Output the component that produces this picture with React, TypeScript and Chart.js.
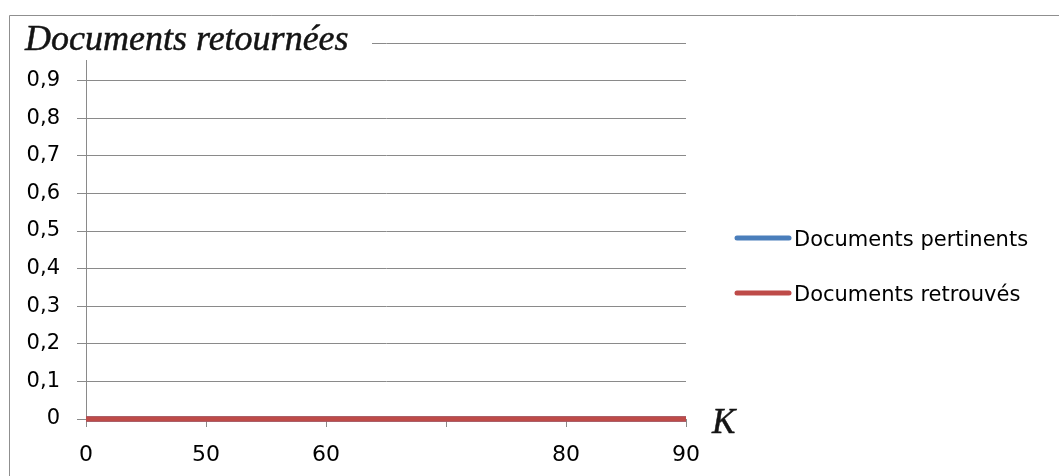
import React, { useEffect, useRef } from 'react';
import { Chart, registerables } from 'chart.js';

Chart.register(...registerables);

// Values of K and the two measured series
const categories = ['0', '50', '60', '70', '80', '90'];
const xTickLabels = ['0', '50', '60', '', '80', '90'];
const pertinents = [0, 0, 0, 0, 0, 0];
const retrouves = [0, 0, 0, 0, 0, 0];
const yTickLabels = ['0', '0,1', '0,2', '0,3', '0,4', '0,5', '0,6', '0,7', '0,8', '0,9', '1'];
const seriesNames = ['Documents pertinents', 'Documents retrouvés'];
const seriesColors = ['#4a7ebb', '#be4b48'];
const yAxisTitle = 'Documents retournées';
const xAxisTitle = 'K';

const GRID = '#8a8a8a';
const TICK_FONT = 'DejaVu Sans';

// Frame, axis titles and legend drawn on top of the plot
const decorations = {
  id: 'decorations',
  afterDraw(chart: any) {
    const ctx = chart.ctx as CanvasRenderingContext2D;
    const area = chart.chartArea;
    ctx.save();

    // outer frame (left and top edges)
    ctx.strokeStyle = '#8f8f8f';
    ctx.lineWidth = 1;
    ctx.beginPath();
    ctx.moveTo(9.5, chart.height);
    ctx.lineTo(9.5, 15.5);
    ctx.lineTo(chart.width, 15.5);
    ctx.stroke();

    // title box with white background
    ctx.fillStyle = '#ffffff';
    ctx.fillRect(10, 16, 362, 44);
    ctx.fillStyle = '#141414';
    ctx.strokeStyle = '#141414';
    ctx.lineWidth = 0.5;
    ctx.font = 'italic 36px "Liberation Serif"';
    ctx.textBaseline = 'alphabetic';
    ctx.textAlign = 'left';
    ctx.fillText(yAxisTitle, 25, 50);
    ctx.strokeText(yAxisTitle, 25, 50);

    // K label next to the x axis end
    ctx.font = 'italic 35px "Liberation Serif"';
    ctx.fillText(xAxisTitle, area.right + 26, area.bottom + 14);
    ctx.strokeText(xAxisTitle, area.right + 26, area.bottom + 14);

    // legend
    const legendY = [246, 301];
    seriesNames.forEach((name, i) => {
      const y = legendY[i] - 8;
      ctx.strokeStyle = seriesColors[i];
      ctx.lineWidth = 5;
      ctx.lineCap = 'round';
      ctx.beginPath();
      ctx.moveTo(737, y);
      ctx.lineTo(789, y);
      ctx.stroke();
      ctx.fillStyle = '#000000';
      ctx.font = `21px "${TICK_FONT}"`;
      ctx.fillText(name, 794, legendY[i]);
    });

    ctx.restore();
  },
};

export default function App() {
  const canvasRef = useRef<HTMLCanvasElement | null>(null);

  useEffect(() => {
    const canvas = canvasRef.current;
    if (!canvas) return;
    const chart = new Chart(canvas, {
      type: 'line',
      data: {
        labels: categories,
        datasets: [
          {
            label: seriesNames[0],
            data: pertinents,
            borderColor: seriesColors[0],
            backgroundColor: seriesColors[0],
            borderWidth: 5.5,
            pointRadius: 0,
            clip: false,
            order: 1,
          },
          {
            label: seriesNames[1],
            data: retrouves,
            borderColor: seriesColors[1],
            backgroundColor: seriesColors[1],
            borderWidth: 5.5,
            pointRadius: 0,
            clip: false,
            order: 0,
          },
        ],
      },
      options: {
        responsive: false,
        animation: false,
        layout: { padding: { left: 0, top: 43, right: 373, bottom: 0 } },
        plugins: {
          legend: { display: false },
          tooltip: { enabled: false },
          title: { display: false },
        },
        scales: {
          x: {
            type: 'category',
            offset: false,
            grid: { drawOnChartArea: false, drawTicks: true, tickLength: 8, color: GRID, lineWidth: 1 },
            border: { display: true, color: GRID },
            ticks: {
              autoSkip: false,
              maxRotation: 0,
              color: '#000000',
              padding: 15,
              font: { family: TICK_FONT, size: 22 },
              callback: (_v: any, i: number) => xTickLabels[i],
            },
            afterFit: (s: any) => {
              s.height = 57;
            },
          },
          y: {
            min: 0,
            max: 1,
            grid: { color: GRID, tickLength: 9, drawTicks: true, lineWidth: 1 },
            border: { display: true, color: GRID },
            ticks: {
              stepSize: 0.1,
              color: '#000000',
              padding: 17,
              font: { family: TICK_FONT, size: 21 },
              callback: (_v: any, i: number) => yTickLabels[i],
            },
            afterFit: (s: any) => {
              s.width = 86;
            },
          },
        },
      },
      plugins: [decorations],
    });
    return () => chart.destroy();
  }, []);

  return (
    <div style={{ position: 'fixed', left: 0, top: 0, width: 1059, height: 476, background: '#ffffff' }}>
      <canvas ref={canvasRef} width={1059} height={476} style={{ display: 'block', width: 1059, height: 476 }} />
    </div>
  );
}
